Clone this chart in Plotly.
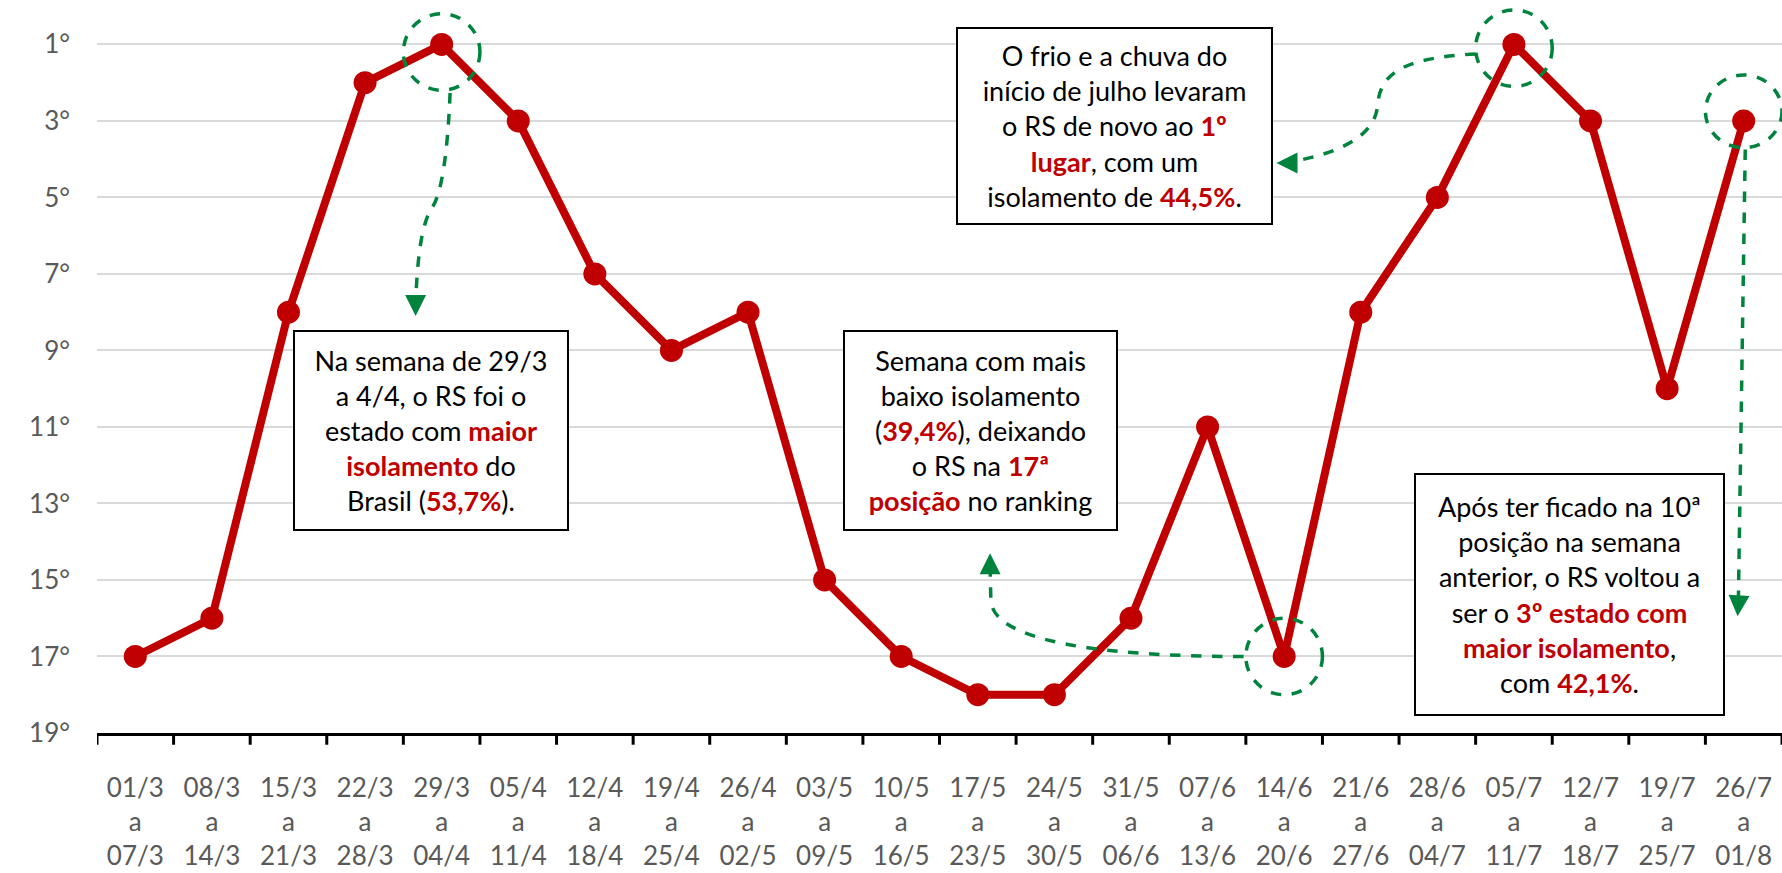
import plotly.graph_objects as go

# semanas (início) e ranking do RS no isolamento
semana_ini = ["01/3", "08/3", "15/3", "22/3", "29/3", "05/4", "12/4", "19/4", "26/4", "03/5", "10/5",
              "17/5", "24/5", "31/5", "07/6", "14/6", "21/6", "28/6", "05/7", "12/7", "19/7", "26/7"]
semana_fim = ["07/3", "14/3", "21/3", "28/3", "04/4", "11/4", "18/4", "25/4", "02/5", "09/5", "16/5",
              "23/5", "30/5", "06/6", "13/6", "20/6", "27/6", "04/7", "11/7", "18/7", "25/7", "01/8"]
ranking = [17, 16, 8, 2, 1, 3, 7, 9, 8, 15, 17, 18, 18, 16, 11, 17, 8, 5, 1, 3, 10, 3]
y_ticks = [1, 3, 5, 7, 9, 11, 13, 15, 17, 19]

RED = "#C00000"
GREEN = "#00843D"
FONT = "Lato"

x_idx = list(range(len(ranking)))
x_text = [f"{a}<br>a<br>{b}" for a, b in zip(semana_ini, semana_fim)]

fig = go.Figure()
fig.add_trace(go.Scatter(
    x=x_idx, y=ranking, mode="lines+markers",
    line=dict(color=RED, width=8),
    marker=dict(color=RED, size=23),
    cliponaxis=False, hoverinfo="skip",
))


def red(s):
    return f"<b><span style='color:{RED}'>{s}</span></b>"


boxes = [
    (3.86, 11.1, 272, 197,
     "Na semana de 29/3<br>a 4/4, o RS foi o<br>estado com " + red("maior") + "<br>"
     + red("isolamento") + " do<br>Brasil (" + red("53,7%") + ")."),
    (11.03, 11.1, 271, 197,
     "Semana com mais<br>baixo isolamento<br>(" + red("39,4%") + "), deixando<br>o RS na "
     + red("17ª") + "<br>" + red("posição") + " no ranking"),
    (12.79, 3.14, 313, 194,
     "O frio e a chuva do<br>início de julho levaram<br>o RS de novo ao " + red("1º") + "<br>"
     + red("lugar") + ", com um<br>isolamento de " + red("44,5%") + "."),
    (18.72, 15.39, 307, 239,
     "Após ter ficado na 10ª<br>posição na semana<br>anterior, o RS voltou a<br>ser o "
     + red("3º estado com") + "<br>" + red("maior isolamento") + ",<br>com " + red("42,1%") + "."),
]
for bx, by, bw, bh, txt in boxes:
    fig.add_annotation(x=bx, y=by, xref="x", yref="y", text=txt, showarrow=False,
                       width=bw, height=bh, align="center", valign="middle",
                       bgcolor="white", bordercolor="black", borderwidth=2, borderpad=0,
                       font=dict(family=FONT, size=27, color="black"))

# círculos tracejados
for x0, x1, y0, y1 in [(3.5, 4.5, 0.2, 2.2), (17.5, 18.5, 0.1, 2.1),
                       (20.5, 21.5, 1.8, 3.7), (14.5, 15.5, 16.0, 18.0)]:
    fig.add_shape(type="circle", xref="x", yref="y", x0=x0, x1=x1, y0=y0, y1=y1,
                  line=dict(color=GREEN, width=3.5, dash="dash"))

# setas tracejadas
paths = [
    "M 4.11,2.27 C 4.08,3.8 4.0,4.9 3.88,5.25 C 3.72,5.7 3.68,6.8 3.66,7.75",
    "M 14.47,17.0 C 12.6,17.0 11.17,16.6 11.17,15.5 L 11.16,14.6",
    "M 17.5,1.25 C 16.6,1.35 16.25,1.7 16.22,2.6 C 16.18,3.5 15.6,3.9 15.05,4.08",
    "M 21.02,3.75 L 20.93,15.6",
]
for p in paths:
    fig.add_shape(type="path", xref="x", yref="y", path=p,
                  line=dict(color=GREEN, width=3.5, dash="dash"))

for tx, ty, ax, ay in [(3.66, 8.1, 0, -14), (11.16, 14.3, 0, 14), (14.9, 4.1, 14, 0), (20.92, 15.95, 1, -14)]:
    fig.add_annotation(x=tx, y=ty, xref="x", yref="y", text="", showarrow=True,
                       ax=ax, ay=ay, arrowhead=2, arrowsize=1.2, arrowwidth=3.5,
                       arrowcolor=GREEN, standoff=0)

fig.update_xaxes(
    type="linear", range=[-0.5, 21.5], tickmode="array", tickvals=x_idx, ticktext=x_text,
    showgrid=False, showline=True, linecolor="black", linewidth=3, automargin=False,
    ticks="", ticklabelstandoff=30, zeroline=False,
    tickfont=dict(family=FONT, size=26, color="#595959"),
)
# marcas entre as categorias
for i in range(len(ranking) + 1):
    fig.add_shape(type="line", xref="x", yref="paper", x0=i - 0.5, x1=i - 0.5,
                  y0=0, y1=-0.016, line=dict(color="black", width=3))

fig.update_yaxes(
    range=[19, -0.16], tickmode="array", tickvals=y_ticks, automargin=False,
    ticktext=[f"{v}°" for v in y_ticks], showgrid=True, gridcolor="#D9D9D9", gridwidth=2,
    zeroline=False, showline=False, ticks="", ticklabelstandoff=26,
    tickfont=dict(family=FONT, size=26, color="#595959"),
)

fig.update_layout(
    width=1782, height=873, showlegend=False,
    plot_bgcolor="white", paper_bgcolor="white",
    margin=dict(l=97, r=0, t=0, b=140, autoexpand=False),
)

fig.write_html("out.html", config={"displayModeBar": False},
               post_script="document.body.style.margin='0';")
